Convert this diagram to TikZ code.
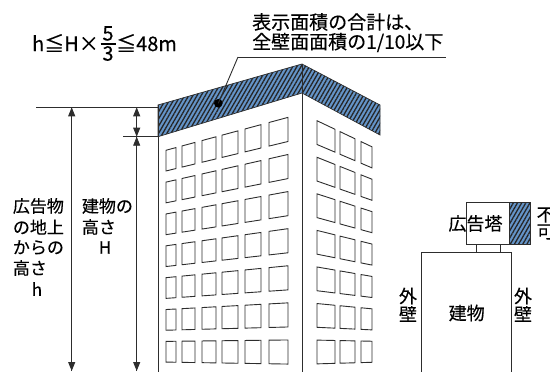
\documentclass[tikz,border=0pt]{standalone}
\usepackage{fontspec}
\setmainfont{Noto Sans CJK JP}[FakeBold=0.35]
\usetikzlibrary{arrows.meta,patterns.meta}
\definecolor{hatchblue}{RGB}{100,148,200}
\definecolor{ln}{RGB}{45,45,45}
\begin{document}
\begin{tikzpicture}[x=1pt,y=-1pt,
  win/.style={draw=ln,line width=0.9pt},
  edge/.style={draw=ln,line width=1pt},
  thin/.style={draw=ln,line width=0.9pt},
  band/.style={preaction={fill=hatchblue},pattern={Lines[angle=60,distance=3.6pt,line width=1.3pt]},pattern color=black!85,draw=ln,line width=0.7pt},
  dim/.style={draw=ln,line width=0.9pt,-{Triangle[length=9pt,width=7pt]}},
  ddim/.style={draw=ln,line width=0.9pt,{Triangle[length=9pt,width=7pt]}-{Triangle[length=9pt,width=7pt]}},
  txt/.style={inner sep=0pt,font=\fontsize{17}{20}\selectfont},
  ttop/.style={inner sep=0pt,font=\fontsize{19}{22}\selectfont},
  tr/.style={inner sep=0pt,font=\fontsize{18}{20}\selectfont},
  tf/.style={inner sep=0pt,font=\fontsize{20}{22}\selectfont}]
\useasboundingbox (0,0) rectangle (550,372);
% ---------- building (left) ----------
\path[band] (158,105) -- (302,64) -- (380,105) -- (380,135) -- (302,93) -- (158,136.7) -- cycle;
\draw[edge] (158,105) -- (158,380);
\draw[thin] (302,64) -- (302,380);
% windows left face
\foreach \xa/\xb in {166/176,182/195,202/216,222/238,245/261,269/288}{
  \pgfmathsetmacro\fa{(\xa+575)/877}
  \pgfmathsetmacro\fb{(\xb+575)/877}
  \foreach \k in {0,...,6}{
    \pgfmathsetmacro\yt{113.6+37.7*\k-350}
    \pgfmathsetmacro\yb{\yt+24.5}
    \draw[win] (\xa,{350+\yt*\fa}) -- (\xb,{350+\yt*\fb})
      -- (\xb,{350+\yb*\fb}) -- (\xa,{350+\yb*\fa}) -- cycle;
  }
}
% windows right face
\foreach \xa/\xb in {317/335,340/355,361/372}{
  \pgfmathsetmacro\fa{(800-\xa)/498}
  \pgfmathsetmacro\fb{(800-\xb)/498}
  \foreach \k in {0,...,6}{
    \pgfmathsetmacro\yt{113.6+37.7*\k-350}
    \pgfmathsetmacro\yb{\yt+24.5}
    \draw[win] (\xa,{350+\yt*\fa}) -- (\xb,{350+\yt*\fb})
      -- (\xb,{350+\yb*\fb}) -- (\xa,{350+\yb*\fa}) -- cycle;
  }
}
% ---------- dimension lines ----------
\coordinate (tl) at (36,107.3);
\coordinate (tr) at (158,107.3);
\coordinate (ml) at (123,136.7);
\coordinate (mr) at (158,136.7);
\draw[thin] (tl) -- (tr);
\draw[thin] (ml) -- (mr);
\coordinate (a1t) at (71.7,107.3);
\coordinate (a1b) at (71.7,371);
\coordinate (a2t) at (136.7,107.3);
\coordinate (a2m) at (136.7,136.7);
\coordinate (a2b) at (136.7,371);
\draw[dim] (a1b) -- (a1t);
\draw[dim] (a1t) -- (a1b);
\draw[ddim] (a2t) -- (a2m);
\draw[dim] (a2b) -- (a2m);
\draw[dim] (a2m) -- (a2b);
% ---------- labels left ----------
\node[txt,anchor=west] (l1) at (12.7,206) {広告物};
\node[txt,anchor=west] (l2) at (12.7,227) {の地上};
\node[txt,anchor=west] (l3) at (12.7,247.5) {からの};
\node[txt,anchor=west] (l4) at (12.7,268) {高さ};
\node[txt] (l5) at (37,289) {h};
\node[txt,anchor=west] (m1) at (81.7,206) {建物の};
\node[txt,anchor=west] (m2) at (81.7,227) {高さ};
\node[txt] (m3) at (105,247.5) {H};
% ---------- formula ----------
\node[tf,anchor=east] (f1) at (99,43) {h≦H×};
\node[tf] (f5) at (108,33.5) {5};
\node[tf] (f3) at (108,53.5) {3};
\coordinate (fbl) at (100.5,44);
\coordinate (fbr) at (116,44);
\draw[line width=1.4pt] (fbl) -- (fbr);
\node[tf,anchor=west] (f2) at (116,43) {≦48m};
% ---------- top note ----------
\node[ttop,anchor=west] (t1) at (252,22) {表示面積の合計は、};
\node[ttop,anchor=west] (t2) at (252,42.5) {全壁面面積の1/10以下};
\coordinate (ul) at (238,57);
\coordinate (ur) at (446,57);
\draw[thin] (ul) -- (ur);
\node[circle,fill=black,inner sep=0pt,minimum size=8.6pt] (dot) at (218.3,103.3) {};
\draw[thin] (ul) -- (dot.center);
% ---------- right diagram ----------
\draw[edge] (421.7,380) -- (421.7,252.7) -- (511.7,252.7) -- (511.7,380);
\draw[edge] (476.7,244.3) rectangle (500.7,252.7);
\path[band] (509.3,202.7) rectangle (530.7,244.3);
\draw[edge] (466.7,202.7) rectangle (530.7,244.3);
\draw[edge] (509.3,202.7) -- (509.3,244.3);
\node[tr] (ad) at (475.5,223.5) {広告塔};
\node[tr,anchor=west] (n1) at (536.5,215) {不};
\node[tr,anchor=west] (n2) at (536.5,232) {可};
\node[tr] (bl) at (466.7,313) {建物};
\node[tr] (w1) at (408,296) {外};
\node[tr] (w2) at (408,314) {壁};
\node[tr] (w3) at (523,296) {外};
\node[tr] (w4) at (523,314) {壁};
\end{tikzpicture}
\end{document}
